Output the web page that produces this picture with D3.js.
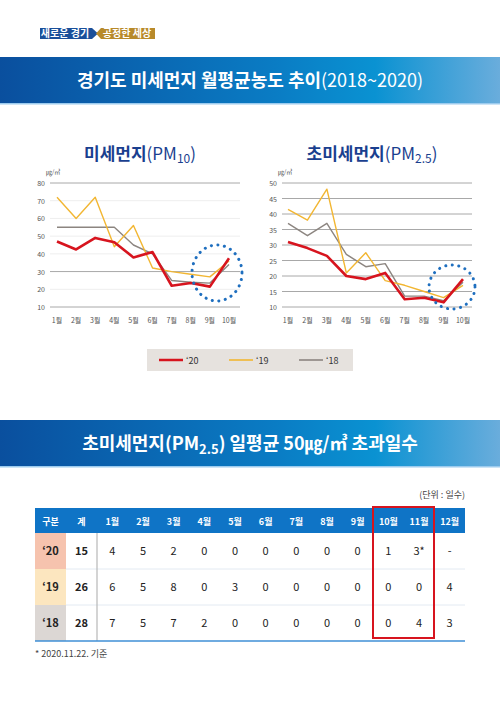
<!DOCTYPE html>
<html><head><meta charset="utf-8">
<script src="https://cdn.jsdelivr.net/npm/d3@7"></script>
<style>body{margin:0;background:#fff}svg{display:block;font-family:"Noto Sans CJK KR","Noto Sans",sans-serif}</style>
</head><body><svg id="c" width="500" height="707"></svg>
<script>
const months = ["1월","2월","3월","4월","5월","6월","7월","8월","9월","10월"];
const years = ["'20","'19","'18"];
const colors = ["#d7141e","#f2b632","#8c8580"];
const pm10_20 = [47,42.5,49,46.5,38,41,22,23.5,21.5,37.5];
const pm10_19 = [72,60,72,44,56,32,30,28.5,27,36];
const pm10_18 = [55,55,55,55,45,40,25,24,23.5,34];
const pm25_20 = [31,29,26.5,20,19,21,12.5,13,11.5,19];
const pm25_19 = [41.5,38,48,21,27.5,18.5,17,15,13,17];
const pm25_18 = [37,33,37,27,23,24,13.5,13.5,12,18];
const pm10Ticks = [10,20,30,40,50,60,70,80];
const pm25Ticks = [10,15,20,25,30,35,40,45,50];
const tableCols = ["구분","계","1월","2월","3월","4월","5월","6월","7월","8월","9월","10월","11월","12월"];
const rowYears = ["'20","'19","'18"];
const rowTotals = ["15","26","28"];
const days20 = ["4","5","2","0","0","0","0","0","0","1","3*","-"];
const days19 = ["6","5","8","0","3","0","0","0","0","0","0","4"];
const days18 = ["7","5","7","2","0","0","0","0","0","0","4","3"];

const svg = d3.select("#c");
const defs = svg.append("defs");
const g = defs.append("linearGradient").attr("id","bn");
[[0,"#0a4f9e"],[0.55,"#0a7cc4"],[0.75,"#0a92d2"],[1,"#6aaddc"]].forEach(([o,c])=>g.append("stop").attr("offset",o).attr("stop-color",c));

// badge
svg.append("path").attr("d","M40,28 H92 L98,33.5 L92,39 H40 Z").attr("fill","#1a4f9a");
svg.append("text").attr("x",65).attr("y",37).attr("text-anchor","middle").attr("fill","#fff").attr("font-size",10).attr("font-weight",700).text("새로운 경기");
svg.append("path").attr("d","M101,28 H155 V39 H101 L96,33.5 Z").attr("fill","#b88a2a");
svg.append("text").attr("x",127).attr("y",37).attr("text-anchor","middle").attr("fill","#fff").attr("font-size",10).attr("font-weight",700).text("공정한 세상");

function banner(y,h,draw){
  svg.append("rect").attr("x",0).attr("y",y).attr("width",500).attr("height",h).attr("fill","url(#bn)");
  svg.append("rect").attr("x",0).attr("y",y+h-1).attr("width",500).attr("height",1.5).attr("fill","#9ccbee");
  draw();
}
banner(57,47,()=>{
  const t=svg.append("text").attr("x",250).attr("y",87).attr("text-anchor","middle").attr("fill","#fff").attr("font-size",18);
  t.append("tspan").attr("font-weight",700).text("경기도 미세먼지 월평균농도 추이");
  t.append("tspan").attr("font-weight",400).text("(2018~2020)");
});
banner(420,47,()=>{
  const t=svg.append("text").attr("x",250).attr("y",450).attr("text-anchor","middle").attr("fill","#fff").attr("font-size",18).attr("font-weight",700);
  t.append("tspan").text("초미세먼지(PM");
  t.append("tspan").attr("font-size",13).attr("dy",4).text("2.5");
  t.append("tspan").attr("dy",-4).text(") 일평균 50㎍/㎥ 초과일수");
});

function chart(x0,x1,xl,xr,ticks,dom,series,title,sub,circ,darkTicks){
  const y=d3.scaleLinear().domain(dom).range([307,183]);
  const x=d3.scalePoint().domain(months).range([x0,x1]);
  const cx=(xl+xr)/2;
  const t=svg.append("text").attr("x",cx-5).attr("y",160).attr("text-anchor","middle").attr("fill","#1a3f8f").attr("font-size",17).attr("font-weight",700);
  t.append("tspan").text(title);
  t.append("tspan").attr("font-weight",400).text("(PM");
  t.append("tspan").attr("font-weight",400).attr("font-size",12).attr("dy",3).text(sub);
  t.append("tspan").attr("font-weight",400).attr("dy",-3).text(")");
  svg.append("text").attr("x",xl-4).attr("y",174).attr("font-size",6).attr("fill","#555").text("㎍/㎥");
  ticks.forEach(v=>{
    const dk = darkTicks ? darkTicks.includes(v) : true;
    svg.append("line").attr("x1",xl).attr("x2",xr).attr("y1",y(v)).attr("y2",y(v)).attr("stroke",dk?"#a8a8a8":"#eeeeee").attr("stroke-width",1);
    svg.append("text").attr("x",xl-5).attr("y",y(v)+3).attr("text-anchor","end").attr("font-size",7).attr("fill","#555").text(v);
  });
  months.forEach(m=>svg.append("text").attr("x",x(m)).attr("y",323).attr("text-anchor","middle").attr("font-size",7).attr("fill","#555").text(m));
  const line=d3.line().x((d,i)=>x(months[i])).y(d=>y(d));
  [2,1,0].forEach(k=>svg.append("path").attr("d",line(series[k])).attr("fill","none").attr("stroke",colors[k]).attr("stroke-width",k==0?2.6:1.4).attr("stroke-linejoin","round"));
  svg.append("ellipse").attr("cx",circ[0]).attr("cy",circ[1]).attr("rx",circ[2]).attr("ry",circ[3]).attr("fill","none").attr("stroke","#1f6fbf").attr("stroke-width",3).attr("stroke-dasharray","0.1 6.5").attr("stroke-linecap","round");
}
chart(57,229,50,240,pm10Ticks,[10,80],[pm10_20,pm10_19,pm10_18],"미세먼지","10",[217,273,25,28],[10,30,80]);
chart(288,463,282,472,pm25Ticks,[10,50],[pm25_20,pm25_19,pm25_18],"초미세먼지","2.5",[452,287,23,22],null);

// legend
svg.append("rect").attr("x",147).attr("y",349).attr("width",206).attr("height",22).attr("fill","#e6e2de");
years.forEach((yv,i)=>{
  const lx=159+i*70;
  svg.append("line").attr("x1",lx).attr("x2",lx+24).attr("y1",360).attr("y2",360).attr("stroke",colors[i]).attr("stroke-width",i==0?2.5:1.6);
  svg.append("text").attr("x",lx+27).attr("y",364).attr("font-size",9).attr("fill","#333").text(yv.replace("'","‘"));
});

// table
svg.append("text").attr("x",465).attr("y",498).attr("text-anchor","end").attr("font-size",9).attr("fill","#444").text("(단위 : 일수)");
const colX=[35,66,97]; for(let i=1;i<=12;i++) colX.push(97+i*368/12);
const colW=i=>colX[i+1]-colX[i];
svg.append("rect").attr("x",35).attr("y",508).attr("width",430).attr("height",25).attr("fill","#0f74c6");
tableCols.forEach((c,i)=>svg.append("text").attr("x",colX[i]+colW(i)/2).attr("y",524.5).attr("text-anchor","middle").attr("fill","#fff").attr("font-size",9).attr("font-weight",700).text(c));
const rowBg=["#f6c3ae","#fce6bf","#dcd7d4"];
const rows=[days20,days19,days18];
rows.forEach((r,ri)=>{
  const ry=533+ri*36;
  svg.append("rect").attr("x",35).attr("y",ry).attr("width",31).attr("height",36).attr("fill",rowBg[ri]);
  if(ri>0) svg.append("line").attr("x1",66).attr("x2",465).attr("y1",ry).attr("y2",ry).attr("stroke","#e3eaf2");
  const cells=[rowYears[ri].replace("'","‘"),rowTotals[ri]].concat(r);
  cells.forEach((c,i)=>svg.append("text").attr("x",colX[i]+colW(i)/2).attr("y",ry+22).attr("text-anchor","middle").attr("fill","#222").attr("font-size",11).attr("font-weight",i<2?700:400).text(c));
});
svg.append("line").attr("x1",97).attr("x2",97).attr("y1",533).attr("y2",641).attr("stroke","#b8b8b8").attr("stroke-width",1.2);
svg.append("line").attr("x1",35).attr("x2",465).attr("y1",641).attr("y2",641).attr("stroke","#3f8fd6").attr("stroke-width",1.5);
svg.append("rect").attr("x",373).attr("y",507).attr("width",61).attr("height",131).attr("fill","none").attr("stroke","#d7141e").attr("stroke-width",2);
svg.append("text").attr("x",35).attr("y",657).attr("font-size",9).attr("fill","#444").text("* 2020.11.22. 기준");
</script></body></html>
